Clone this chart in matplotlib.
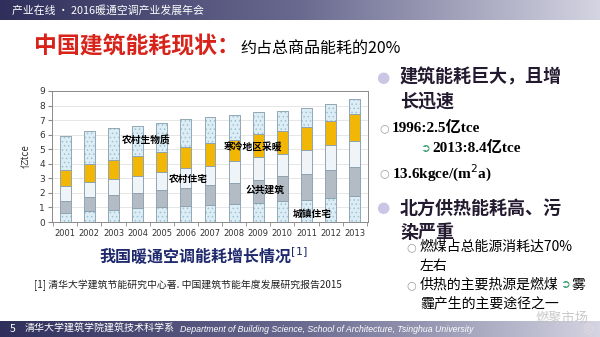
import numpy as np
import matplotlib
matplotlib.use("Agg")
import matplotlib.pyplot as plt
from matplotlib.colors import LinearSegmentedColormap

plt.rcParams['font.family'] = ['Noto Sans CJK SC', 'DejaVu Sans']
plt.rcParams['hatch.linewidth'] = 0.6

# ---------------- data ----------------
years = ['2001', '2002', '2003', '2004', '2005', '2006', '2007',
         '2008', '2009', '2010', '2011', '2012', '2013']
seg_urban_res = [0.62, 0.78, 0.84, 0.96, 1.05, 1.10, 1.16, 1.23, 1.30, 1.42, 1.53, 1.64, 1.76]
seg_public    = [0.84, 0.91, 1.03, 1.03, 1.12, 1.25, 1.35, 1.44, 1.60, 1.75, 1.76, 1.94, 2.05]
seg_rural_res = [0.98, 1.05, 1.08, 1.14, 1.28, 1.35, 1.37, 1.49, 1.60, 1.51, 1.66, 1.69, 1.78]
seg_heating   = [1.14, 1.26, 1.32, 1.41, 1.39, 1.44, 1.53, 1.48, 1.53, 1.60, 1.60, 1.65, 1.83]
seg_biomass   = [2.33, 2.26, 2.17, 2.06, 1.94, 1.91, 1.78, 1.71, 1.50, 1.37, 1.30, 1.16, 1.00]
y_ticks = [0, 1, 2, 3, 4, 5, 6, 7, 8, 9]

W, H = 600, 337
fig = plt.figure(figsize=(6.0, 3.37), dpi=100)
fig.patch.set_facecolor('white')

def P(x, y):
    return (x / W, 1 - y / H)

# ---------- header / footer gradient bars ----------
cmap = LinearSegmentedColormap.from_list('bar', ['#2f2f5c', '#6a6a90', '#d4d4e2'])
grad = np.linspace(0, 1, 256).reshape(1, -1)
for (y0, y1) in [(0, 20), (321, 337)]:
    bax = fig.add_axes([0, 1 - y1 / H, 1, (y1 - y0) / H])
    bax.imshow(grad, aspect='auto', cmap=cmap, extent=[0, 1, 0, 1])
    bax.set_axis_off()

fig.text(*P(12, 10), '产业在线 · 2016暖通空调产业发展年会', color='white',
         fontsize=7.8, va='center', ha='left')
fig.text(*P(10, 329), '5', color='white', fontsize=7.5, va='center', ha='left')
fig.text(*P(25, 329), '清华大学建筑学院建筑技术科学系', color='white',
         fontsize=7.2, va='center', ha='left')
fig.text(*P(180, 329), 'Department of Building Science, School of Architecture, Tsinghua University',
         color='white', fontsize=6.3, style='italic', va='center', ha='left',
         family=['Liberation Sans', 'DejaVu Sans'])

# ---------- title ----------
fig.text(*P(34, 47), '中国建筑能耗现状：', color='#d8231b', fontsize=16.5,
         fontweight='bold', va='center', ha='left')
fig.text(*P(240, 48), '约占总商品能耗的20%', color='black', fontsize=11.5,
         va='center', ha='left')

# ---------- chart ----------
ax = fig.add_axes([52 / W, 1 - 222 / H, (368 - 52) / W, (222 - 91) / H])
x = np.arange(len(years))
bw = 0.45
edge = '#8fa3b0'
layers = [
    (seg_urban_res, '#dcedf5', '....', '#9cc3d6'),
    (seg_public,    '#b3bcc4', None,   edge),
    (seg_rural_res, '#eef4f8', None,   edge),
    (seg_heating,   '#f2b705', None,   edge),
    (seg_biomass,   '#dcedf5', '....', '#9cc3d6'),
]
bottom = np.zeros(len(years))
for vals, fc, hatch, ec in layers:
    v = np.array(vals)
    ax.bar(x, v, bw, bottom=bottom, color=fc, hatch=hatch, edgecolor=ec,
           linewidth=0.5, zorder=3)
    ax.bar(x, v, bw, bottom=bottom, fill=False, edgecolor=edge,
           linewidth=0.6, zorder=4)
    bottom = bottom + v

ax.set_xlim(-0.55, len(years) - 0.45)
ax.set_ylim(0, 9)
ax.set_yticks(y_ticks)
ax.set_yticklabels([str(t) for t in y_ticks], fontsize=6.5, color='#333333',
                   family=['DejaVu Sans'])
ax.set_xticks(x)
ax.set_xticklabels(years, fontsize=6.0, color='#333333', family=['DejaVu Sans'])
ax.set_xticks(np.arange(-0.5, len(years), 1), minor=True)
ax.tick_params(axis='x', which='major', length=0, pad=5)
ax.tick_params(axis='x', which='minor', length=3, color='#888888')
ax.tick_params(axis='y', length=3, color='#888888', pad=2)
ax.grid(axis='y', color='#e2e2e2', linewidth=0.6, zorder=0)
for s in ax.spines.values():
    s.set_color('#8a8a8a')
    s.set_linewidth(0.7)
ax.set_ylabel('亿tce', fontsize=7, color='#333333', labelpad=6)

lab_kw = dict(fontsize=7, fontweight='bold', color='black', ha='center',
              va='center', zorder=6)
ax.text(3.36, 5.64, '农村生物质', **lab_kw)
ax.text(5.1, 2.97, '农村住宅', **lab_kw)
ax.text(7.8, 5.09, '寒冷地区采暖', **lab_kw)
ax.text(8.3, 2.21, '公共建筑', **lab_kw)
ax.text(10.25, 0.57, '城镇住宅', **lab_kw)

fig.text(*P(203, 256), '我国暖通空调能耗增长情况$^{[1]}$', color='#1f2a6e',
         fontsize=11.5, fontweight='bold', ha='center', va='center')
fig.text(*P(34, 285), '[1] 清华大学建筑节能研究中心著. 中国建筑节能年度发展研究报告2015',
         color='#222222', fontsize=7.1, ha='left', va='center')

# ---------- right bullets ----------
for cy in (77, 208):
    fig.text(*P(383, cy), '●', color='#c9c6e6', fontsize=11, ha='center',
             va='center', family=['DejaVu Sans'])
for cx, cy in [(384, 128), (384, 173), (411, 247), (411, 285)]:
    fig.text(*P(cx, cy), '○', color='#9a9a9a', fontsize=8, ha='center',
             va='center', family=['DejaVu Sans'])
for cx, cy in [(425, 148), (565, 285)]:
    fig.text(*P(cx, cy), '➲', color='#3aa070', fontsize=8.5, ha='center',
             va='center', family=['DejaVu Sans'])

hd = dict(fontsize=13, fontweight='bold', color='#231a30', ha='left', va='center')
fig.text(*P(400, 77), '建筑能耗巨大，且增', **hd)
fig.text(*P(400, 101), '长迅速', **hd)
fig.text(*P(400, 208), '北方供热能耗高、污', **hd)
fig.text(*P(400, 232), '染严重', **hd)

sb = dict(fontsize=11, fontweight='bold', color='black', ha='left', va='center',
          family=['Liberation Serif', 'Noto Sans CJK SC'])
fig.text(*P(392, 128), '1996:2.5亿tce', **sb)
fig.text(*P(432, 148), '2013:8.4亿tce', **sb)
fig.text(*P(392, 173), '13.6kgce/(m$^{2}$a)', **sb)

sr = dict(fontsize=10, color='black', ha='left', va='center')
fig.text(*P(420, 247), '燃煤占总能源消耗达70%', **sr)
fig.text(*P(420, 266), '左右', **sr)
fig.text(*P(420, 285), '供热的主要热源是燃煤', **sr)
fig.text(*P(572, 285), '雾', **sr)
fig.text(*P(420, 303), '霾产生的主要途径之一', **sr)

# watermark
fig.text(*P(562, 318), '燃聚市场', color='#bdbdbd', fontsize=9.5, ha='center',
         va='center', alpha=0.8)
fig.text(*P(588, 329), '◎', color='#e8d8e0', fontsize=9, ha='center', va='center',
         family=['DejaVu Sans'])

fig.savefig('out.png', dpi=100, facecolor='white')
